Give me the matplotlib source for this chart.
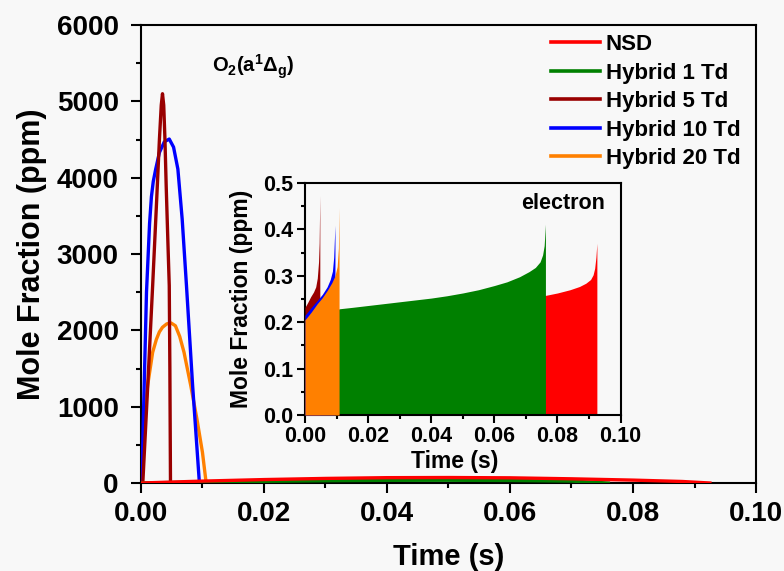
#!/usr/bin/env python3

"""O2(a1Dg) and electron mole fraction: NSD vs hybrid discharges"""

import matplotlib
matplotlib.use('Agg')
import matplotlib.pyplot as plt
from matplotlib.ticker import MultipleLocator, FormatStrFormatter

plt.rcParams['font.family'] = ['Liberation Sans', 'DejaVu Sans']
plt.rcParams['font.weight'] = 'bold'
plt.rcParams['mathtext.fontset'] = 'custom'
plt.rcParams['mathtext.rm'] = 'Liberation Sans:bold'
plt.rcParams['mathtext.it'] = 'Liberation Sans:bold'
plt.rcParams['mathtext.bf'] = 'Liberation Sans:bold'

labels = ['NSD', 'Hybrid 1 Td', 'Hybrid 5 Td', 'Hybrid 10 Td', 'Hybrid 20 Td']
colors = ['#ff0000', '#008000', '#990000', '#0000ff', '#ff8000']

# O2(a1Dg) mole fraction (ppm) vs time (s)
t_nsd = [0, 0.01, 0.02, 0.03, 0.04, 0.05, 0.06, 0.07, 0.08, 0.088, 0.0925]
o2_nsd = [0, 25, 45, 60, 70, 72, 68, 55, 38, 20, 0]
t_1td = [0, 0.01, 0.02, 0.03, 0.04, 0.05, 0.06, 0.07, 0.076]
o2_1td = [0, 12, 22, 30, 35, 36, 33, 25, 0]
t_5td = [0, 0.0003, 0.0011, 0.0019, 0.00255, 0.0030, 0.0033, 0.0035,
         0.0037, 0.0039, 0.0041, 0.0044, 0.0046, 0.0047, 0.0048]
o2_5td = [0, 0, 1275, 2585, 3700, 4500, 4950, 5100,
          4950, 4500, 3895, 3100, 2585, 1500, 0]
t_10td = [0, 0.0002, 0.0005, 0.0009, 0.0014, 0.0017, 0.0020, 0.0024, 0.0030,
          0.0038, 0.0046, 0.0053, 0.0060, 0.0067, 0.0074, 0.0084, 0.0095]
o2_10td = [0, 200, 1200, 2500, 3400, 3750, 3950, 4113, 4330,
           4470, 4506, 4400, 4113, 3458, 2585, 1275, 0]
t_20td = [0, 0.0002, 0.00054, 0.00108, 0.0019, 0.0025, 0.0030, 0.0035, 0.0042,
          0.0049, 0.0056, 0.0063, 0.0070, 0.0081, 0.0091, 0.0100, 0.0106]
o2_20td = [0, 300, 838, 1275, 1712, 1880, 1980, 2040, 2085,
           2096, 2060, 1920, 1712, 1275, 838, 400, 0]

# electron mole fraction (ppm) vs time (s)
te_nsd = [0, 0.0764, 0.080, 0.084, 0.087, 0.089, 0.0905, 0.0913, 0.0918,
          0.0922, 0.0925]
ne_nsd = [0.20, 0.258, 0.263, 0.270, 0.277, 0.284, 0.292, 0.302, 0.316,
          0.34, 0.37]
te_1td = [0, 0.011, 0.015, 0.02, 0.025, 0.03, 0.035, 0.04, 0.045, 0.05, 0.055,
          0.06, 0.064, 0.068, 0.071, 0.073, 0.0745, 0.0753, 0.0758, 0.0762]
ne_1td = [0.21, 0.229, 0.232, 0.236, 0.240, 0.244, 0.248, 0.252, 0.257, 0.263,
          0.270, 0.279, 0.287, 0.298, 0.309, 0.318, 0.33, 0.345, 0.365, 0.411]
te_5td = [0, 0.0009, 0.0018, 0.0027, 0.0034, 0.0039, 0.0043, 0.0045, 0.0047]
ne_5td = [0.232, 0.243, 0.255, 0.265, 0.276, 0.295, 0.33, 0.37, 0.473]
te_10td = [0, 0.002, 0.0039, 0.0055, 0.007, 0.008, 0.0087, 0.0091, 0.0095]
ne_10td = [0.215, 0.232, 0.247, 0.26, 0.276, 0.292, 0.31, 0.34, 0.409]
te_20td = [0, 0.002, 0.0039, 0.0055, 0.0071, 0.0085, 0.0095, 0.0102, 0.0106, 0.0108]
ne_20td = [0.205, 0.222, 0.24, 0.253, 0.269, 0.285, 0.30, 0.32, 0.36, 0.447]

bg = '#f8f8f8'


def style_axes(ax, lw, fs, maj, mino, padx, pady):
    for s in ax.spines.values():
        s.set_linewidth(lw)
    ax.tick_params(which='major', direction='out', length=maj, width=lw,
                   labelsize=fs, top=False, right=False)
    ax.tick_params(which='minor', direction='out', length=mino, width=lw,
                   top=False, right=False)
    ax.tick_params(axis='x', which='major', pad=padx)
    ax.tick_params(axis='y', which='major', pad=pady)
    for lab in ax.get_xticklabels() + ax.get_yticklabels():
        lab.set_fontweight('bold')


fig = plt.figure(figsize=(7.84, 5.71), dpi=100, facecolor=bg)
ax = fig.add_axes([0.1798, 0.1541, 0.7845, 0.8021])
ax.set_facecolor(bg)

lw = 2.4
ax.plot(t_20td, o2_20td, color=colors[4], lw=lw, zorder=2)
ax.plot(t_10td, o2_10td, color=colors[3], lw=lw, zorder=3)
ax.plot(t_5td, o2_5td, color=colors[2], lw=lw, zorder=4)
ax.plot(t_1td, o2_1td, color=colors[1], lw=lw, zorder=5)
ax.plot(t_nsd, o2_nsd, color=colors[0], lw=lw, zorder=6)

ax.set_xlim(0, 0.1)
ax.set_ylim(0, 6000)
ax.xaxis.set_major_locator(MultipleLocator(0.02))
ax.xaxis.set_minor_locator(MultipleLocator(0.01))
ax.yaxis.set_major_locator(MultipleLocator(1000))
ax.yaxis.set_minor_locator(MultipleLocator(500))
ax.xaxis.set_major_formatter(FormatStrFormatter('%.2f'))
style_axes(ax, 1.5, 20, 7, 3.5, 6, 9)
ax.set_xlabel('Time (s)', fontsize=21, fontweight='bold', va='top')
ax.set_ylabel('Mole Fraction (ppm)', fontsize=22, fontweight='bold')
ax.xaxis.set_label_coords(0.5, -0.131)
ax.yaxis.set_label_coords(-0.153, 0.5)

ax.text(0.0115, 5640, r'$\mathrm{O_2(a^1\Delta_g)}$', fontsize=14.5,
        ha='left', va='top')

# legend with the five discharge cases
handles = [plt.Line2D([], [], color=c, lw=2.6) for c in colors]
fig.legend(handles, labels, loc='upper left', bbox_to_anchor=(551 / 784, 1 - 34 / 571),
           frameon=False, borderpad=0, borderaxespad=0, handlelength=2.2,
           handletextpad=0.27, labelspacing=0.34, prop={'size': 16, 'weight': 'bold'})

# inset: electron mole fraction
ins = fig.add_axes([0.389, 0.2732, 0.4025, 0.4063])
ins.set_facecolor(bg)
ins.fill_between(te_nsd, ne_nsd, 0, color=colors[0], lw=0, zorder=1)
ins.fill_between(te_1td, ne_1td, 0, color=colors[1], lw=0, zorder=2)
ins.fill_between(te_5td, ne_5td, 0, color=colors[2], lw=0, zorder=3)
ins.fill_between(te_10td, ne_10td, 0, color=colors[3], lw=0, zorder=4)
ins.fill_between(te_20td, ne_20td, 0, color=colors[4], lw=0, zorder=5)
ins.set_xlim(0, 0.1)
ins.set_ylim(0, 0.5)
ins.xaxis.set_major_locator(MultipleLocator(0.02))
ins.xaxis.set_minor_locator(MultipleLocator(0.01))
ins.yaxis.set_major_locator(MultipleLocator(0.1))
ins.yaxis.set_minor_locator(MultipleLocator(0.05))
ins.xaxis.set_major_formatter(FormatStrFormatter('%.2f'))
ins.yaxis.set_major_formatter(FormatStrFormatter('%.1f'))
style_axes(ins, 1.5, 15.5, 5.5, 3, 2.5, 3)
ins.set_xlabel('Time (s)', fontsize=16.5, fontweight='bold', va='top')
ins.set_ylabel('Mole Fraction (ppm)', fontsize=16.5, fontweight='bold')
ins.xaxis.set_label_coords(0.474, -0.151)
ins.yaxis.set_label_coords(-0.166, 0.5)
ins.text(0.095, 0.455, 'electron', fontsize=15.5, fontweight='bold',
         ha='right', va='center')

plt.savefig('out.png', dpi=100, facecolor=bg)
